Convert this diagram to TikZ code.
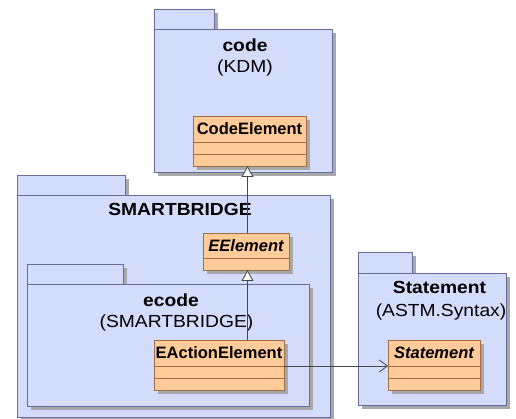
\documentclass[tikz,border=0pt]{standalone}
\usepackage{fontspec}
\setmainfont{Liberation Sans}
\newfontfamily\pkgfont[FakeStretch=1.1]{Liberation Sans}
\usetikzlibrary{shadows,arrows.meta}

\definecolor{pkgfill}{RGB}{212,220,252}
\definecolor{pkgline}{RGB}{100,110,155}
\definecolor{clsfill}{RGB}{254,203,153}
\definecolor{clsline}{RGB}{160,110,70}
\definecolor{shadowgrey}{RGB}{168,168,168}
\definecolor{linkline}{RGB}{70,70,70}

\begin{document}
\begin{tikzpicture}[x=1pt,y=-1pt,
  shade/.style={drop shadow={shadow xshift=4pt,shadow yshift=-4pt,fill=shadowgrey,opacity=1}},
  pkg/.style={rectangle,draw=pkgline,fill=pkgfill,line width=0.8pt,shade,inner sep=0pt,outer sep=0pt},
  cls/.style={rectangle,draw=clsline,fill=clsfill,line width=0.8pt,shade,inner sep=0pt,outer sep=0pt},
  pkgtitle/.style={font=\pkgfont\fontsize{17.5}{20}\selectfont\bfseries,inner sep=0pt},
  pkgsub/.style={font=\pkgfont\fontsize{17.5}{20}\selectfont,inner sep=0pt},
  clsname/.style={font=\fontsize{16.5}{19}\selectfont\bfseries,inner sep=0pt},
  absname/.style={font=\fontsize{16.5}{19}\selectfont\bfseries\itshape,inner sep=0pt},
  comp/.style={draw=clsline,line width=0.8pt},
  gen/.style={draw=linkline,line width=0.8pt,-{Triangle[length=11pt,width=12pt,fill=white]}},
  assoc/.style={draw=linkline,line width=0.8pt,-{Straight Barb[length=8pt,width=12pt]}}]

\useasboundingbox (0,0) rectangle (516,419);

% package code (KDM)
\node[pkg,minimum width=60pt,minimum height=20pt] (codetab) at (184,19) {};
\node[pkg,minimum width=178pt,minimum height=143pt] (codepkg) at (243,100.5) {};
\node[pkgtitle] (codetitle) at (245,45) {code};
\node[pkgsub] (codesub) at (245,68) {(KDM)};

\node[cls,minimum width=113pt,minimum height=50pt] (codeel) at (249.5,141) {};
\draw[comp] (codeel.west |- 0,142) -- (codeel.east |- 0,142);
\draw[comp] (codeel.west |- 0,154) -- (codeel.east |- 0,154);
\node[clsname] (codeelname) at (249.5,129) {CodeElement};

% package SMARTBRIDGE
\node[pkg,minimum width=108pt,minimum height=20pt] (sbtab) at (71,185) {};
\node[pkg,minimum width=313pt,minimum height=222pt] (sbpkg) at (173.5,306) {};
\node[pkgtitle] (sbtitle) at (180,209) {SMARTBRIDGE};

\node[cls,minimum width=86pt,minimum height=37pt] (eel) at (246,251.5) {};
\draw[comp] (eel.west |- 0,258) -- (eel.east |- 0,258);
\node[absname] (eelname) at (246,245.5) {EElement};

% package ecode (SMARTBRIDGE)
\node[pkg,minimum width=96pt,minimum height=20pt] (ecodetab) at (75,274) {};
\node[pkg,minimum width=282pt,minimum height=122pt] (ecodepkg) at (168,345) {};
\node[pkgtitle] (ecodetitle) at (171,300) {ecode};
\node[pkgsub] (ecodesub) at (176.5,323) {(SMARTBRIDGE)};

\node[cls,minimum width=130pt,minimum height=50pt] (eact) at (219,365) {};
\draw[comp] (eact.west |- 0,366) -- (eact.east |- 0,366);
\draw[comp] (eact.west |- 0,378) -- (eact.east |- 0,378);
\node[clsname] (eactname) at (219,353) {EActionElement};

% package Statement (ASTM.Syntax)
\node[pkg,minimum width=54pt,minimum height=21pt] (sttab) at (385,262.5) {};
\node[pkg,minimum width=148pt,minimum height=132pt] (stpkg) at (432,339) {};
\node[pkgtitle] (sttitle) at (439.5,287) {Statement};
\node[pkgsub] (stsub) at (441,312) {(ASTM.Syntax)};

\node[cls,minimum width=92pt,minimum height=50pt] (stmt) at (434,365) {};
\draw[comp] (stmt.west |- 0,366) -- (stmt.east |- 0,366);
\draw[comp] (stmt.west |- 0,378) -- (stmt.east |- 0,378);
\node[absname] (stmtname) at (434,353) {Statement};

% relations
\coordinate (genx) at (247.5,0);
\coordinate (assocy) at (0,366);
\draw[gen] (eel.north -| genx) -- (codeel.south -| genx);
\draw[gen] (eact.north -| genx) -- (eel.south -| genx);
\draw[assoc] (eact.east |- assocy) -- (stmt.west |- assocy);

\end{tikzpicture}
\end{document}
